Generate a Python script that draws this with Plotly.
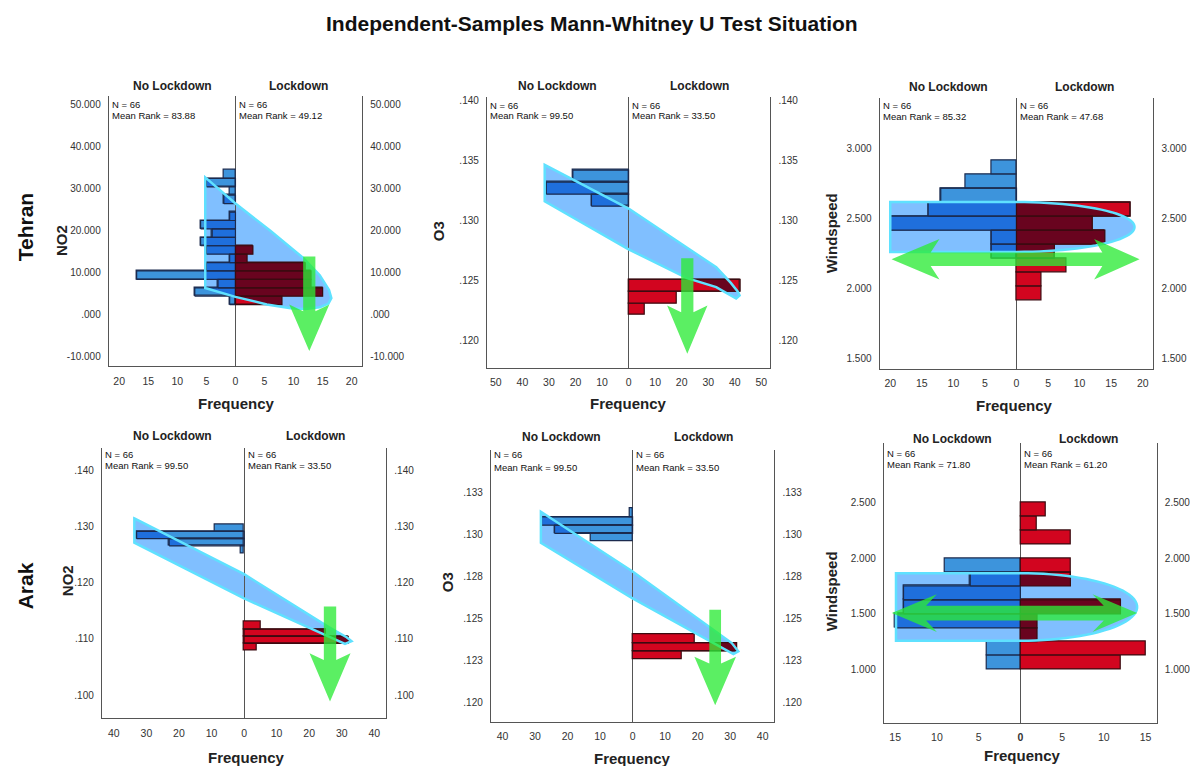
import numpy as np
import plotly.graph_objects as go

FONT = "Liberation Sans, Arial, sans-serif"
W, H = 1190, 766

# ---------------- data ----------------
title_text = "Independent-Samples Mann-Whitney U Test Situation"
cities = ["Tehran", "Arak"]
variables = ["NO2", "O3", "Windspeed", "NO2", "O3", "Windspeed"]
groups = ["No Lockdown", "Lockdown"]
group_n = [66, 66]
mean_rank_no = ["83.88", "99.50", "85.32", "99.50", "99.50", "71.80"]
mean_rank_lock = ["49.12", "33.50", "47.68", "33.50", "33.50", "61.20"]

# histogram bins: first lower edge, bin width, counts from bottom to top
teh_no2_bin = 2.0
teh_no2_no_start = 2.35
teh_no2_no = [1, 7, 3, 17, 5, 1, 5, 6, 4, 6, 1, 0, 2, 1, 5, 2]
teh_no2_lock_start = 2.35
teh_no2_lock = [8, 15, 13, 13, 12, 2, 3]

teh_o3_bin = 0.001
teh_o3_no_start = 0.1312
teh_o3_no = [14, 31, 21]
teh_o3_lock_start = 0.1221
teh_o3_lock = [6, 18, 42]

teh_ws_bin = 0.1
teh_ws_no_start = 2.217
teh_ws_no = [4, 4, 20, 14, 12, 8, 4]
teh_ws_lock_start = 1.917
teh_ws_lock = [4, 4, 8, 6, 14, 12, 18]

arak_no2_bin = 0.00128
arak_no2_no_start = 0.12525
arak_no2_no = [1, 23, 33, 9]
arak_no2_lock_start = 0.1079
arak_no2_lock = [4, 32, 25, 5]

arak_o3_bin = 0.00049
arak_o3_no_start = 0.12958
arak_o3_no = [13, 24, 28, 1]
arak_o3_lock_start = 0.12259
arak_o3_lock = [15, 32, 19]

arak_ws_bin = 0.125
arak_ws_no_start = 1.0
arak_ws_no = [4, 4, 0, 15, 14, 14, 6, 9]
arak_ws_lock_start = 1.0
arak_ws_lock = [12, 15, 2, 2, 12, 0, 6, 6, 0, 6, 2, 3]

# tick values / labels
teh_no2_yticks = [-10, 0, 10, 20, 30, 40, 50]
teh_no2_ylabels = ["-10.000", ".000", "10.000", "20.000", "30.000", "40.000", "50.000"]
teh_o3_yticks = [0.120, 0.125, 0.130, 0.135, 0.140]
teh_o3_ylabels = [".120", ".125", ".130", ".135", ".140"]
teh_ws_yticks = [1.5, 2.0, 2.5, 3.0]
teh_ws_ylabels = ["1.500", "2.000", "2.500", "3.000"]
arak_no2_yticks = [0.100, 0.110, 0.120, 0.130, 0.140]
arak_no2_ylabels = [".100", ".110", ".120", ".130", ".140"]
arak_o3_yticks = [0.120, 0.1225, 0.125, 0.1275, 0.130, 0.1325]
arak_o3_ylabels = [".120", ".123", ".125", ".128", ".130", ".133"]
arak_ws_yticks = [1.0, 1.5, 2.0, 2.5]
arak_ws_ylabels = ["1.000", "1.500", "2.000", "2.500"]

freq_ticks_20 = [-20, -15, -10, -5, 0, 5, 10, 15, 20]
freq_ticks_50 = [-50, -40, -30, -20, -10, 0, 10, 20, 30, 40, 50]
freq_ticks_40 = [-40, -30, -20, -10, 0, 10, 20, 30, 40]
freq_ticks_15 = [-15, -10, -5, 0, 5, 10, 15]

# ---------------- styling / layout ----------------
BLUE, BLUE_EDGE = (61, 148, 220), "#1b2a4e"
RED, RED_EDGE = (210, 5, 31), "#3a0b10"
OVERLAY = (128, 191, 255)
OVERLAY_LINE = "rgb(95,225,255)"
GREEN = "rgba(45,235,55,0.78)"
AX = "#555555"


def rgb(c):
    return "rgb(%d,%d,%d)" % tuple(int(round(v)) for v in c)


def multiply(a, b):
    return tuple(x * y / 255.0 for x, y in zip(a, b))


# pixel boxes: left, right, top, bottom
panels = [
    dict(box=(109.3, 364.0, 94.0, 365.0), xr=21.8, yr=(-12.25, 52.0),
         no=(teh_no2_no_start, teh_no2_bin, teh_no2_no), lock=(teh_no2_lock_start, teh_no2_bin, teh_no2_lock),
         yt=(teh_no2_yticks, teh_no2_ylabels), xt=freq_ticks_20,
         ytitle=(62, 239), freq=(238, 403), hdr_y=84, n_y=(102.3, 113.3)),
    dict(box=(489.3, 774.3, 95.0, 366.7), xr=53.4, yr=(0.11772, 0.14033),
         no=(teh_o3_no_start, teh_o3_bin, teh_o3_no), lock=(teh_o3_lock_start, teh_o3_bin, teh_o3_lock),
         yt=(teh_o3_yticks, teh_o3_ylabels), xt=freq_ticks_50,
         ytitle=(441, 230), freq=(632, 403), hdr_y=84, n_y=(103.3, 113.3)),
    dict(box=(884.0, 1159.3, 96.7, 367.7), xr=21.7, yr=(1.4286, 3.357),
         no=(teh_ws_no_start, teh_ws_bin, teh_ws_no), lock=(teh_ws_lock_start, teh_ws_bin, teh_ws_lock),
         yt=(teh_ws_yticks, teh_ws_ylabels), xt=freq_ticks_20,
         ytitle=(836, 232), freq=(1020, 405), hdr_y=85, n_y=(103.3, 114.3)),
    dict(box=(102.3, 388.3, 446.7, 718.3), xr=43.7, yr=(0.09587, 0.1440),
         no=(arak_no2_no_start, arak_no2_bin, arak_no2_no), lock=(arak_no2_lock_start, arak_no2_bin, arak_no2_lock),
         yt=(arak_no2_yticks, arak_no2_ylabels), xt=freq_ticks_40,
         ytitle=(68, 580), freq=(248, 757), hdr_y=435, n_y=(453.3, 464.3)),
    dict(box=(493.3, 778.3, 449.3, 721.7), xr=43.6, yr=(0.11887, 0.13501),
         no=(arak_o3_no_start, arak_o3_bin, arak_o3_no), lock=(arak_o3_lock_start, arak_o3_bin, arak_o3_lock),
         yt=(arak_o3_yticks, arak_o3_ylabels), xt=freq_ticks_40,
         ytitle=(450, 582), freq=(636, 758), hdr_y=436, n_y=(453.3, 467.0)),
    dict(box=(888.3, 1162.7, 441.7, 722.7), xr=16.36, yr=(0.5224, 3.037),
         no=(arak_ws_no_start, arak_ws_bin, arak_ws_no), lock=(arak_ws_lock_start, arak_ws_bin, arak_ws_lock),
         yt=(arak_ws_yticks, arak_ws_ylabels), xt=freq_ticks_15,
         ytitle=(836, 591), freq=(1028, 755), hdr_y=438, n_y=(452.7, 463.3)),
]


def px(x):
    return x / W


def py(y):
    return 1 - y / H


def ref(prefix, i):
    return prefix if i == 1 else f"{prefix}{i}"


def path_from(pts):
    return "M " + " L ".join(f"{x:.6g},{y:.6g}" for x, y in pts) + " Z"


def v_arrow(cx, w, top, junc, hw, wing_y, tip):
    return [(cx - w, top), (cx + w, top), (cx + w, junc), (cx + hw, wing_y),
            (cx, tip), (cx - hw, wing_y), (cx - w, junc)]


def h_arrow(cy, h, lt, rt, lw, rw, lj, rj, hh):
    return [(lt, cy), (lw, cy + hh), (lj, cy + h), (rj, cy + h), (rw, cy + hh), (rt, cy),
            (rw, cy - hh), (rj, cy - h), (lj, cy - h), (lw, cy - hh)]


def capsule(x_left, cy, a, b, n=48):
    pts = [(x_left, cy + b)]
    for t in np.linspace(np.pi / 2, -np.pi / 2, n):
        pts.append((a * np.cos(t), cy + b * np.sin(t)))
    pts.append((x_left, cy - b))
    return pts


def clip_rect(poly, x0, x1, y0, y1):
    """Sutherland-Hodgman clip of a polygon by an axis-aligned rectangle."""
    def clip(pts, inside, inter):
        out = []
        n = len(pts)
        for j in range(n):
            cur, prev = pts[j], pts[j - 1]
            if inside(cur):
                if not inside(prev):
                    out.append(inter(prev, cur))
                out.append(cur)
            elif inside(prev):
                out.append(inter(prev, cur))
        return out

    def ix(xc):
        return lambda p, q: (xc, p[1] + (q[1] - p[1]) * (xc - p[0]) / (q[0] - p[0]))

    def iy(yc):
        return lambda p, q: (p[0] + (q[0] - p[0]) * (yc - p[1]) / (q[1] - p[1]), yc)

    pts = list(poly)
    for inside, inter in ((lambda p: p[0] >= x0, ix(x0)), (lambda p: p[0] <= x1, ix(x1)),
                          (lambda p: p[1] >= y0, iy(y0)), (lambda p: p[1] <= y1, iy(y1))):
        if not pts:
            break
        pts = clip(pts, inside, inter)
    return pts


# annotation overlays (hand drawn marks on the original), in data units of each panel
overlays = [
    [(-5.2, 32.6), (0, 26.4), (6, 19.9), (11.7, 13.4), (14.5, 9.3), (16.1, 5.8), (16.5, 3.9),
     (16.0, 2.6), (14.5, 1.7), (12.0, 1.3), (9.5, 1.5), (5.4, 2.4), (0, 4.2), (-5.2, 6.3)],
    [(-31.6, 0.13465), (0, 0.13100), (33.0, 0.12610), (38.5, 0.12480), (41.0, 0.12410),
     (41.8, 0.12375), (40.5, 0.12350), (33.0, 0.12445), (22.0, 0.12520), (0, 0.12760), (-31.6, 0.13160)],
    capsule(-20.0, 2.44, 18.7, 0.178),
    [(-33.7, 0.1314), (0, 0.1215), (26.0, 0.1121), (31.5, 0.1103), (33.0, 0.1096), (31.0, 0.1091),
     (0, 0.1172), (-33.7, 0.1271)],
    [(-28.2, 0.13135), (0, 0.12780), (30.5, 0.12355), (32.5, 0.12306), (31.0, 0.12290),
     (0, 0.12620), (-28.2, 0.12950)],
    capsule(-14.9, 1.562, 14.0, 0.303),
]
arrows = [
    v_arrow(12.7, 1.05, 13.8, 0.8, 3.45, 2.4, -8.7),
    v_arrow(22.1, 2.3, 0.12686, 0.12236, 7.6, 0.12292, 0.11889),
    h_arrow(2.21, 0.048, -19.8, 19.5, -12.2, 12.3, -13.6, 13.6, 0.145),
    v_arrow(26.4, 1.9, 0.11574, 0.10627, 6.3, 0.10746, 0.09888),
    v_arrow(25.4, 1.8, 0.12553, 0.12233, 6.4, 0.12273, 0.11986),
    h_arrow(1.507, 0.066, -15.4, 14.0, -10.0, 8.65, -11.3, 10.0, 0.17),
]

fig = go.Figure()
layout = dict(width=W, height=H, margin=dict(l=0, r=0, t=0, b=0), autosize=False,
              paper_bgcolor="white", plot_bgcolor="white", showlegend=False,
              barmode="overlay", bargap=0, font=dict(family=FONT, color="#222"))
shapes, annotations = [], []

for k, p in enumerate(panels):
    i = k + 1
    l, r, t, b = p["box"]
    xk, yk, yrk = ref("x", i), ref("y", i), f"y{i + 6}"
    ov = overlays[k]

    # overlay fill underneath the bars
    shapes.append(dict(type="path", xref=xk, yref=yk, path=path_from(ov), layer="below",
                       fillcolor=rgb(OVERLAY), line=dict(width=0)))

    patch_traces = []
    for (start, width, counts), sign, col, edge in ((p["no"], -1, BLUE, BLUE_EDGE),
                                                    (p["lock"], 1, RED, RED_EDGE)):
        lows = [start + width * j for j in range(len(counts))]
        ys = [lo + width / 2 for lo, v in zip(lows, counts) if v > 0]
        xs = [sign * v for v in counts if v > 0]
        fig.add_trace(go.Bar(x=xs, y=ys, width=width, orientation="h", xaxis=xk, yaxis=yk,
                             marker=dict(color=rgb(col), line=dict(color=edge, width=1.2)),
                             hoverinfo="skip"))
        # where the translucent overlay covers a bar, the colours multiply
        px_, py_, ox, oy = [], [], [], []
        for lo, v in zip(lows, counts):
            if v <= 0:
                continue
            xa, xb = sorted((0.0, float(sign * v)))
            poly = clip_rect(ov, xa, xb, lo, lo + width)
            if len(poly) >= 3:
                px_ += [q[0] for q in poly] + [poly[0][0], None]
                py_ += [q[1] for q in poly] + [poly[0][1], None]
                ox += [xa, xb, xb, xa, xa, None]
                oy += [lo, lo, lo + width, lo + width, lo, None]
        if px_:
            patch_traces.append(go.Scatter(x=px_, y=py_, xaxis=xk, yaxis=yk, mode="lines",
                                           fill="toself", fillcolor=rgb(multiply(col, OVERLAY)),
                                           line=dict(width=0), hoverinfo="skip"))
            patch_traces.append(go.Scatter(x=ox, y=oy, xaxis=xk, yaxis=yk, mode="lines",
                                           line=dict(color=edge, width=1.2), hoverinfo="skip"))
    for tr in patch_traces:
        fig.add_trace(tr)

    # invisible trace to anchor the right-hand axis
    fig.add_trace(go.Scatter(x=[0], y=[sum(p["yr"]) / 2], xaxis=xk, yaxis=yrk, mode="markers",
                             marker=dict(opacity=0), hoverinfo="skip"))

    xt = p["xt"]
    xtext = [f"<b>{abs(v)}</b>" if (i == 6 and v == 0) else str(abs(v)) for v in xt]
    layout[ref("xaxis", i)] = dict(domain=[px(l), px(r)], range=[-p["xr"], p["xr"]], anchor=yk,
                                   tickvals=xt, ticktext=xtext, showline=True, linecolor=AX, linewidth=1,
                                   zeroline=True, zerolinecolor=AX, zerolinewidth=1, showgrid=False,
                                   ticks="", ticklabelstandoff=5, fixedrange=True,
                                   tickfont=dict(family=FONT, size=10.5, color="#333"))
    ytv, ytt = p["yt"]
    ycommon = dict(domain=[py(b), py(t)], range=list(p["yr"]), tickvals=ytv, ticktext=ytt,
                   showline=True, linecolor=AX, linewidth=1, showgrid=False, zeroline=False,
                   ticks="", ticklabelstandoff=5, fixedrange=True,
                   tickfont=dict(family=FONT, size=10, color="#333"))
    layout[ref("yaxis", i)] = dict(anchor=xk, **ycommon)
    layout[f"yaxis{i + 6}"] = dict(anchor=xk, overlaying=yk, side="right", **ycommon)

    # overlay glow outline and green arrow on top
    shapes.append(dict(type="path", xref=xk, yref=yk, path=path_from(ov), layer="above",
                       fillcolor="rgba(0,0,0,0)", line=dict(color=OVERLAY_LINE, width=2.5)))
    shapes.append(dict(type="path", xref=xk, yref=yk, path=path_from(arrows[k]), layer="above",
                       fillcolor=GREEN, line=dict(width=0)))

    cxp = (l + r) / 2
    for gname, hx in ((groups[0], (l + cxp) / 2), (groups[1], (cxp + r) / 2)):
        annotations.append(dict(text=f"<b>{gname}</b>", x=px(hx), y=py(p["hdr_y"]), xref="paper",
                                yref="paper", showarrow=False, xanchor="center", yanchor="middle",
                                font=dict(family=FONT, size=12, color="#222")))
    for gx, n, mr in ((l, group_n[0], mean_rank_no[k]), (cxp, group_n[1], mean_rank_lock[k])):
        for txt, yy in ((f"N = {n}", p["n_y"][0]), (f"Mean Rank = {mr}", p["n_y"][1])):
            annotations.append(dict(text=txt, x=px(gx + 1.5), y=py(yy), xref="paper", yref="paper",
                                    showarrow=False, xanchor="left", yanchor="middle",
                                    font=dict(family=FONT, size=9.5, color="#111")))
    annotations.append(dict(text=f"<b>{variables[k]}</b>", x=px(p["ytitle"][0]), y=py(p["ytitle"][1]),
                            xref="paper", yref="paper", showarrow=False, textangle=-90,
                            xanchor="center", yanchor="middle", font=dict(family=FONT, size=15, color="#222")))
    annotations.append(dict(text="<b>Frequency</b>", x=px(p["freq"][0]), y=py(p["freq"][1]),
                            xref="paper", yref="paper", showarrow=False, xanchor="center",
                            yanchor="middle", font=dict(family=FONT, size=15, color="#222")))

annotations.append(dict(text=f"<b>{title_text}</b>", x=px(595), y=py(22), xref="paper", yref="paper",
                        showarrow=False, xanchor="center", yanchor="middle",
                        font=dict(family=FONT, size=21, color="#111")))
for city, cy in zip(cities, (226, 585)):
    annotations.append(dict(text=f"<b>{city}</b>", x=px(26), y=py(cy), xref="paper", yref="paper",
                            showarrow=False, textangle=-90, xanchor="center", yanchor="middle",
                            font=dict(family=FONT, size=21, color="#111")))

layout["shapes"] = shapes
layout["annotations"] = annotations
fig.update_layout(**layout)

fig.write_html("out.html", post_script="document.body.style.margin = '0';",
               config={"displayModeBar": False})
